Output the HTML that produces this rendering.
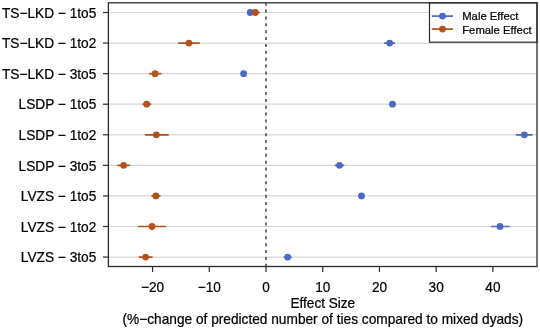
<!DOCTYPE html><html><head><meta charset="utf-8"><style>html,body{margin:0;padding:0;background:#fff;width:540px;height:330px;overflow:hidden}svg{display:block}text{font-family:"Liberation Sans",sans-serif;fill:#000;stroke:#000;stroke-width:0.22px}svg{will-change:transform;filter:blur(0.3px)}</style></head><body>
<svg width="540" height="330" viewBox="0 0 540 330">
<rect x="0" y="0" width="540" height="330" fill="#fff"/>
<line x1="108.4" y1="12.50" x2="537" y2="12.50" stroke="#d6d6d6" stroke-width="1.2"/>
<line x1="108.4" y1="43.07" x2="537" y2="43.07" stroke="#d6d6d6" stroke-width="1.2"/>
<line x1="108.4" y1="73.64" x2="537" y2="73.64" stroke="#d6d6d6" stroke-width="1.2"/>
<line x1="108.4" y1="104.21" x2="537" y2="104.21" stroke="#d6d6d6" stroke-width="1.2"/>
<line x1="108.4" y1="134.78" x2="537" y2="134.78" stroke="#d6d6d6" stroke-width="1.2"/>
<line x1="108.4" y1="165.35" x2="537" y2="165.35" stroke="#d6d6d6" stroke-width="1.2"/>
<line x1="108.4" y1="195.92" x2="537" y2="195.92" stroke="#d6d6d6" stroke-width="1.2"/>
<line x1="108.4" y1="226.49" x2="537" y2="226.49" stroke="#d6d6d6" stroke-width="1.2"/>
<line x1="108.4" y1="257.06" x2="537" y2="257.06" stroke="#d6d6d6" stroke-width="1.2"/>
<line x1="266.0" y1="2.8" x2="266.0" y2="266.5" stroke="#222" stroke-width="1.3" stroke-dasharray="3 3.87" stroke-dashoffset="0.1"/>
<line x1="249.80" y1="12.50" x2="250.60" y2="12.50" stroke="#4b68c5" stroke-width="1.7" stroke-linecap="round"/>
<circle cx="250.2" cy="12.50" r="3.4" fill="#4b68c5"/>
<line x1="251.70" y1="12.50" x2="259.20" y2="12.50" stroke="#b1531b" stroke-width="1.7" stroke-linecap="round"/>
<circle cx="255.3" cy="12.50" r="3.4" fill="#b1531b"/>
<line x1="384.70" y1="43.07" x2="394.50" y2="43.07" stroke="#4b68c5" stroke-width="1.7" stroke-linecap="round"/>
<circle cx="389.7" cy="43.07" r="3.4" fill="#4b68c5"/>
<line x1="178.80" y1="43.07" x2="199.20" y2="43.07" stroke="#b1531b" stroke-width="1.7" stroke-linecap="round"/>
<circle cx="188.9" cy="43.07" r="3.4" fill="#b1531b"/>
<line x1="243.40" y1="73.64" x2="243.80" y2="73.64" stroke="#4b68c5" stroke-width="1.7" stroke-linecap="round"/>
<circle cx="243.6" cy="73.64" r="3.4" fill="#4b68c5"/>
<line x1="149.70" y1="73.64" x2="160.80" y2="73.64" stroke="#b1531b" stroke-width="1.7" stroke-linecap="round"/>
<circle cx="155.1" cy="73.64" r="3.4" fill="#b1531b"/>
<line x1="392.30" y1="104.21" x2="392.70" y2="104.21" stroke="#4b68c5" stroke-width="1.7" stroke-linecap="round"/>
<circle cx="392.5" cy="104.21" r="3.4" fill="#4b68c5"/>
<line x1="143.20" y1="104.21" x2="150.50" y2="104.21" stroke="#b1531b" stroke-width="1.7" stroke-linecap="round"/>
<circle cx="146.7" cy="104.21" r="3.4" fill="#b1531b"/>
<line x1="516.70" y1="134.78" x2="531.90" y2="134.78" stroke="#4b68c5" stroke-width="1.7" stroke-linecap="round"/>
<circle cx="524.4" cy="134.78" r="3.4" fill="#4b68c5"/>
<line x1="145.60" y1="134.78" x2="168.10" y2="134.78" stroke="#b1531b" stroke-width="1.7" stroke-linecap="round"/>
<circle cx="156.4" cy="134.78" r="3.4" fill="#b1531b"/>
<line x1="335.30" y1="165.35" x2="343.60" y2="165.35" stroke="#4b68c5" stroke-width="1.7" stroke-linecap="round"/>
<circle cx="339.5" cy="165.35" r="3.4" fill="#4b68c5"/>
<line x1="117.90" y1="165.35" x2="129.50" y2="165.35" stroke="#b1531b" stroke-width="1.7" stroke-linecap="round"/>
<circle cx="123.6" cy="165.35" r="3.4" fill="#b1531b"/>
<line x1="361.30" y1="195.92" x2="361.70" y2="195.92" stroke="#4b68c5" stroke-width="1.7" stroke-linecap="round"/>
<circle cx="361.5" cy="195.92" r="3.4" fill="#4b68c5"/>
<line x1="152.10" y1="195.92" x2="159.80" y2="195.92" stroke="#b1531b" stroke-width="1.7" stroke-linecap="round"/>
<circle cx="155.9" cy="195.92" r="3.4" fill="#b1531b"/>
<line x1="491.70" y1="226.49" x2="509.00" y2="226.49" stroke="#4b68c5" stroke-width="1.7" stroke-linecap="round"/>
<circle cx="500.0" cy="226.49" r="3.4" fill="#4b68c5"/>
<line x1="138.60" y1="226.49" x2="165.50" y2="226.49" stroke="#b1531b" stroke-width="1.7" stroke-linecap="round"/>
<circle cx="152.0" cy="226.49" r="3.4" fill="#b1531b"/>
<line x1="284.40" y1="257.06" x2="291.00" y2="257.06" stroke="#4b68c5" stroke-width="1.7" stroke-linecap="round"/>
<circle cx="287.7" cy="257.06" r="3.4" fill="#4b68c5"/>
<line x1="139.40" y1="257.06" x2="152.00" y2="257.06" stroke="#b1531b" stroke-width="1.7" stroke-linecap="round"/>
<circle cx="145.6" cy="257.06" r="3.4" fill="#b1531b"/>
<rect x="429.5" y="2.8" width="107.5" height="39.400000000000006" fill="#fff" stroke="#2a2a2a" stroke-width="1.2"/>
<line x1="431.8" y1="16.1" x2="453" y2="16.1" stroke="#4b68c5" stroke-width="1.7"/>
<circle cx="442.5" cy="16.1" r="3.4" fill="#4b68c5"/>
<line x1="431.8" y1="29.1" x2="453" y2="29.1" stroke="#b1531b" stroke-width="1.7"/>
<circle cx="442.5" cy="29.1" r="3.4" fill="#b1531b"/>
<text transform="translate(462.2 20) scale(1 1.02)" font-size="11.3">Male Effect</text>
<text transform="translate(462.2 33.7) scale(1 1.02)" font-size="11.3">Female Effect</text>
<rect x="108.4" y="2.8" width="428.6" height="263.7" fill="none" stroke="#2a2a2a" stroke-width="1.3"/>
<line x1="103" y1="12.50" x2="108.4" y2="12.50" stroke="#2a2a2a" stroke-width="1.2"/>
<text transform="translate(96.3 17.70) scale(1 1.02)" font-size="13.7" text-anchor="end">TS−LKD − 1to5</text>
<line x1="103" y1="43.07" x2="108.4" y2="43.07" stroke="#2a2a2a" stroke-width="1.2"/>
<text transform="translate(96.3 48.27) scale(1 1.02)" font-size="13.7" text-anchor="end">TS−LKD − 1to2</text>
<line x1="103" y1="73.64" x2="108.4" y2="73.64" stroke="#2a2a2a" stroke-width="1.2"/>
<text transform="translate(96.3 78.84) scale(1 1.02)" font-size="13.7" text-anchor="end">TS−LKD − 3to5</text>
<line x1="103" y1="104.21" x2="108.4" y2="104.21" stroke="#2a2a2a" stroke-width="1.2"/>
<text transform="translate(96.3 109.41) scale(1 1.02)" font-size="13.7" text-anchor="end">LSDP − 1to5</text>
<line x1="103" y1="134.78" x2="108.4" y2="134.78" stroke="#2a2a2a" stroke-width="1.2"/>
<text transform="translate(96.3 139.98) scale(1 1.02)" font-size="13.7" text-anchor="end">LSDP − 1to2</text>
<line x1="103" y1="165.35" x2="108.4" y2="165.35" stroke="#2a2a2a" stroke-width="1.2"/>
<text transform="translate(96.3 170.55) scale(1 1.02)" font-size="13.7" text-anchor="end">LSDP − 3to5</text>
<line x1="103" y1="195.92" x2="108.4" y2="195.92" stroke="#2a2a2a" stroke-width="1.2"/>
<text transform="translate(96.3 201.12) scale(1 1.02)" font-size="13.7" text-anchor="end">LVZS − 1to5</text>
<line x1="103" y1="226.49" x2="108.4" y2="226.49" stroke="#2a2a2a" stroke-width="1.2"/>
<text transform="translate(96.3 231.69) scale(1 1.02)" font-size="13.7" text-anchor="end">LVZS − 1to2</text>
<line x1="103" y1="257.06" x2="108.4" y2="257.06" stroke="#2a2a2a" stroke-width="1.2"/>
<text transform="translate(96.3 262.26) scale(1 1.02)" font-size="13.7" text-anchor="end">LVZS − 3to5</text>
<line x1="152.56" y1="266.5" x2="152.56" y2="272" stroke="#2a2a2a" stroke-width="1.2"/>
<text transform="translate(152.56 291.6) scale(1 1.02)" font-size="13.6" text-anchor="middle">−20</text>
<line x1="209.28" y1="266.5" x2="209.28" y2="272" stroke="#2a2a2a" stroke-width="1.2"/>
<text transform="translate(209.28 291.6) scale(1 1.02)" font-size="13.6" text-anchor="middle">−10</text>
<line x1="266.00" y1="266.5" x2="266.00" y2="272" stroke="#2a2a2a" stroke-width="1.2"/>
<text transform="translate(266.00 291.6) scale(1 1.02)" font-size="13.6" text-anchor="middle">0</text>
<line x1="322.72" y1="266.5" x2="322.72" y2="272" stroke="#2a2a2a" stroke-width="1.2"/>
<text transform="translate(322.72 291.6) scale(1 1.02)" font-size="13.6" text-anchor="middle">10</text>
<line x1="379.44" y1="266.5" x2="379.44" y2="272" stroke="#2a2a2a" stroke-width="1.2"/>
<text transform="translate(379.44 291.6) scale(1 1.02)" font-size="13.6" text-anchor="middle">20</text>
<line x1="436.16" y1="266.5" x2="436.16" y2="272" stroke="#2a2a2a" stroke-width="1.2"/>
<text transform="translate(436.16 291.6) scale(1 1.02)" font-size="13.6" text-anchor="middle">30</text>
<line x1="492.88" y1="266.5" x2="492.88" y2="272" stroke="#2a2a2a" stroke-width="1.2"/>
<text transform="translate(492.88 291.6) scale(1 1.02)" font-size="13.6" text-anchor="middle">40</text>
<text transform="translate(322.8 307.6) scale(1 1.02)" font-size="13.6" text-anchor="middle">Effect Size</text>
<text transform="translate(322.8 324.2) scale(1 1.02)" font-size="13.7" text-anchor="middle">(%−change of predicted number of ties compared to mixed dyads)</text>
</svg></body></html>
